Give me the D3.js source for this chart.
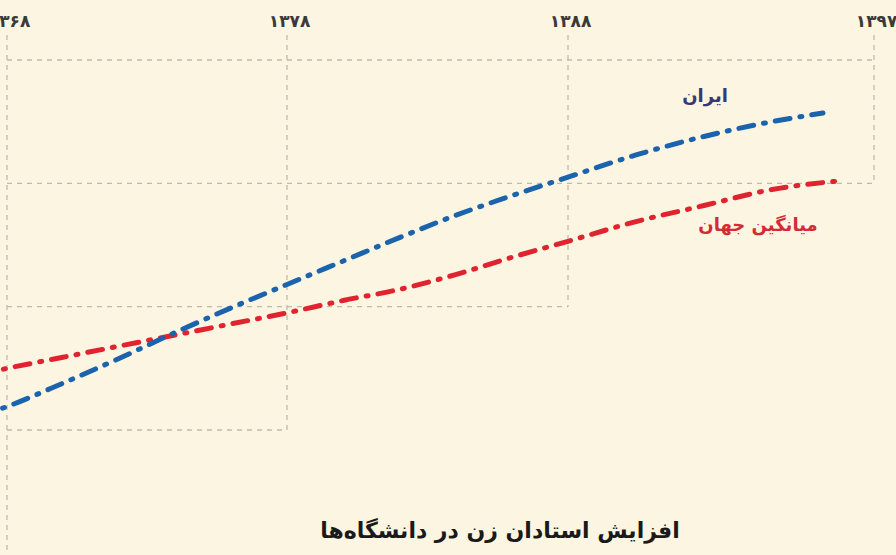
<!DOCTYPE html>
<html lang="fa">
<head>
<meta charset="utf-8">
<script src="https://cdn.jsdelivr.net/npm/d3@7/dist/d3.min.js"></script>
<style>
  html, body { margin: 0; padding: 0; background: #fcf5e1; }
  svg { display: block; }
  text { font-family: "DejaVu Sans", "Noto Sans", sans-serif; }
</style>
</head>
<body>
<div id="chart"></div>
<script>
// years on the top axis and their labels
const tickYears = [1368, 1378, 1388, 1397];
const tickLabels = ['۱۳۶۸', '۱۳۷۸', '۱۳۸۸', '۱۳۹۷'];

// grid rows (share of women, %) and the last year each row reaches
const gridValues = [10, 20, 30, 40];
const gridEnds = [1378, 1388, 1397, 1397];

// Iran
const iranYears = [1367, 1368, 1370, 1372, 1374, 1376, 1378, 1380, 1382, 1384, 1386, 1388, 1390, 1392, 1394, 1395.5];
const iranValues = [11.1, 11.9, 13.8, 15.8, 17.9, 19.9, 21.8, 23.7, 25.6, 27.4, 29.0, 30.5, 32.3, 33.8, 35.0, 35.7];

// world average
const worldYears = [1367, 1368, 1370, 1372, 1374, 1376, 1378, 1380, 1382, 1384, 1386, 1388, 1390, 1392, 1394, 1396];
const worldValues = [14.5, 15.0, 15.9, 16.8, 17.7, 18.6, 19.5, 20.5, 21.4, 22.6, 24.0, 25.3, 26.9, 28.2, 29.5, 30.2];

const width = 896;
const height = 555;

const svg = d3.select('#chart')
  .append('svg')
  .attr('width', width)
  .attr('height', height);

svg.append('rect')
  .attr('width', width)
  .attr('height', height)
  .attr('fill', '#fcf5e1');

// the last ticks are not evenly spaced in the picture
const x = d3.scaleLinear()
  .domain(tickYears)
  .range([7, 287, 568, 874]);

const y = d3.scaleLinear()
  .domain([10, 40])
  .range([430, 60]);

const gridColor = '#bfbaad';
const grid = svg.append('g')
  .attr('stroke', gridColor)
  .attr('stroke-width', 1.3)
  .attr('stroke-dasharray', '5 5')
  .attr('fill', 'none');

// horizontal rows, stepping back like stairs
grid.selectAll('line.h')
  .data(gridValues)
  .join('line')
  .attr('class', 'h')
  .attr('x1', x(tickYears[0]))
  .attr('x2', (d, i) => x(gridEnds[i]))
  .attr('y1', d => y(d))
  .attr('y2', d => y(d));

// verticals stop at the lowest row that reaches them; the first one runs to the bottom
grid.selectAll('line.v')
  .data(tickYears)
  .join('line')
  .attr('class', 'v')
  .attr('x1', d => x(d))
  .attr('x2', d => x(d))
  .attr('y1', 35)
  .attr('y2', (d, i) => i === 0 ? height : y(gridValues[gridEnds.findIndex(e => e >= d)]));

// top axis, labels only
const axis = svg.append('g')
  .attr('transform', 'translate(2,21)')
  .call(d3.axisTop(x).tickValues(tickYears).tickFormat((d, i) => tickLabels[i]).tickSize(0));
axis.select('.domain').remove();
axis.selectAll('text')
  .attr('y', 0)
  .attr('dy', '0.35em')
  .attr('fill', '#3a3a3a')
  .attr('font-size', 17)
  .attr('font-weight', 'bold')
  .style('font-family', '"DejaVu Sans", sans-serif');

const line = d3.line()
  .x(d => x(d[0]))
  .y(d => y(d[1]))
  .curve(d3.curveMonotoneX);

const series = [
  { name: 'world', color: '#e0242f', data: d3.zip(worldYears, worldValues) },
  { name: 'iran', color: '#1c63ad', data: d3.zip(iranYears, iranValues) },
];

svg.selectAll('path.series')
  .data(series)
  .join('path')
  .attr('class', 'series')
  .attr('d', d => line(d.data))
  .attr('fill', 'none')
  .attr('stroke', d => d.color)
  .attr('stroke-width', 5)
  .attr('stroke-linecap', 'round')
  .attr('stroke-dasharray', '15 10 2 10');

// line labels
svg.append('text')
  .attr('x', 705)
  .attr('y', 97)
  .attr('text-anchor', 'middle')
  .attr('dominant-baseline', 'middle')
  .attr('font-size', 18)
  .attr('font-weight', 'bold')
  .attr('fill', '#3b3775')
  .text('ایران');

svg.append('text')
  .attr('x', 758)
  .attr('y', 226)
  .attr('text-anchor', 'middle')
  .attr('dominant-baseline', 'middle')
  .attr('font-size', 18)
  .attr('font-weight', 'bold')
  .attr('fill', '#d42a36')
  .text('میانگین جهان');

// title
svg.append('text')
  .attr('x', 500)
  .attr('y', 532)
  .attr('text-anchor', 'middle')
  .attr('dominant-baseline', 'middle')
  .attr('font-size', 22)
  .attr('font-weight', 'bold')
  .attr('fill', '#1a1a1a')
  .text('افزایش استادان زن در دانشگاه\u200cها');
</script>
</body>
</html>
